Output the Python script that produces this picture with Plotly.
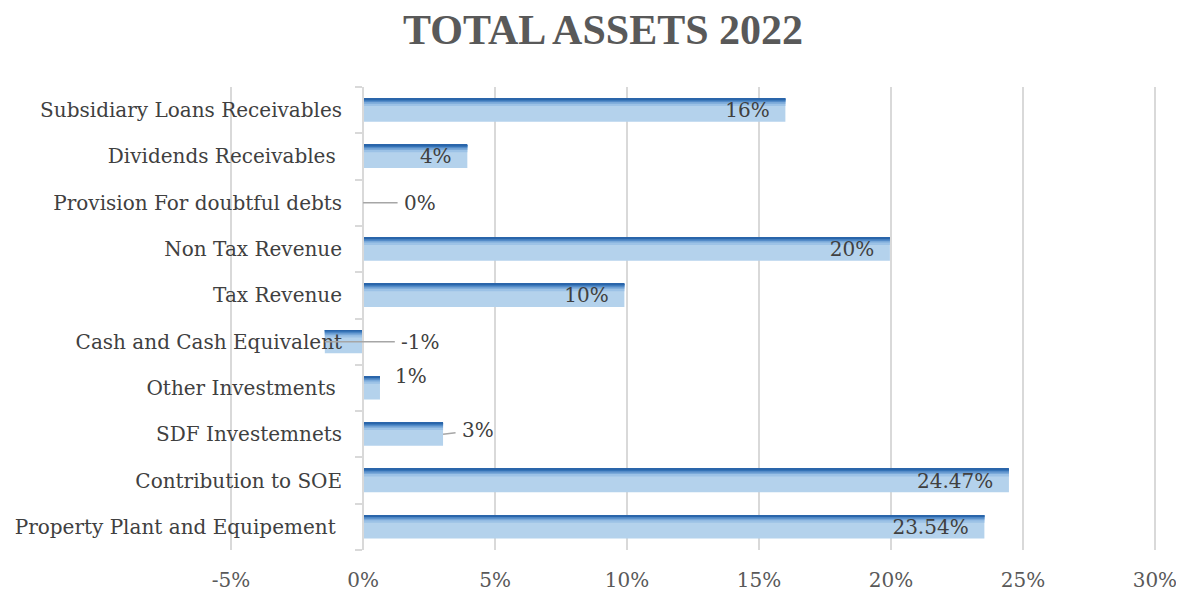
import plotly.graph_objects as go

# 数据 (自下而上)
categories = [
    "Property Plant and Equipement ",
    "Contribution to SOE",
    "SDF Investemnets",
    "Other Investments ",
    "Cash and Cash Equivalent",
    "Tax Revenue",
    "Non Tax Revenue",
    "Provision For doubtful debts",
    "Dividends Receivables ",
    "Subsidiary Loans Receivables",
]
values = [23.54, 24.47, 3.03, 0.64, -1.45, 9.9, 19.96, 0.0, 3.95, 16.0]
labels = ["23.54%", "24.47%", "3%", "1%", "-1%", "10%", "20%", "0%", "4%", "16%"]
label_outside = [False, False, True, True, True, False, False, True, False, False]

x_ticks = [-5, 0, 5, 10, 15, 20, 25, 30]
x_tick_labels = ["-5%", "0%", "5%", "10%", "15%", "20%", "25%", "30%"]

FONT = "DejaVu Serif"
GRID = "#d9d9d9"
LABEL_FONT = dict(family=FONT, size=20, color="#404040")

fig = go.Figure()

# 渐变条: 浅色底 + 顶部逐层加深
layers = [
    (0.50, "#b4d2ec"),
    (0.16, "#9cc2e6"),
    (0.11, "#7aa9d9"),
    (0.075, "#558cc8"),
    (0.045, "#3573b6"),
    (0.02, "#2a65aa"),
]
for w, c in layers:
    fig.add_trace(go.Bar(
        y=categories,
        x=values,
        orientation="h",
        width=w,
        offset=0.25 - w,
        marker=dict(color=c, line_width=0),
        hoverinfo="skip",
        showlegend=False,
    ))

# 数据标签 (透明条, 位于最上层)
fig.add_trace(go.Bar(
    y=categories,
    x=values,
    orientation="h",
    width=0.5,
    offset=-0.25,
    marker=dict(color="rgba(0,0,0,0)", line_width=0),
    text=[("" if o else t) for t, o in zip(labels, label_outside)],
    texttemplate="%{text}\u00a0\u00a0",
    textposition="inside",
    insidetextanchor="end",
    constraintext="none",
    textfont=LABEL_FONT,
    hoverinfo="skip",
    showlegend=False,
))

# 小数值的标签 (带引导线)
shifts = {
    "0%": dict(ax=57, ay=0, arrow=True),
    "-1%": dict(ax=96, ay=0, arrow=True),
    "1%": dict(ax=31, ay=-12, arrow=False),
    "3%": dict(ax=35, ay=-4, arrow=True),
}
for cat, v, t, o in zip(categories, values, labels, label_outside):
    if not o:
        continue
    s = shifts[t]
    if s["arrow"]:
        fig.add_annotation(
            x=v, y=cat, text=t, showarrow=True, arrowhead=0,
            arrowwidth=1.5, arrowcolor="#a6a6a6",
            ax=s["ax"], ay=s["ay"], standoff=0, borderpad=6,
            font=LABEL_FONT,
        )
    else:
        fig.add_annotation(
            x=v, y=cat, text=t, showarrow=False,
            xshift=s["ax"], yshift=-s["ay"],
            font=LABEL_FONT,
        )

# 页面 body 有 8px 边距, 故尺寸减 8
fig.update_layout(
    title=dict(
        text="<b>TOTAL ASSETS 2022</b>",
        x=0.506, xanchor="center", y=0.964, yanchor="middle",
        font=dict(family="Liberation Serif", size=42, color="#595959"),
    ),
    barmode="overlay",
    width=1176, height=584,
    margin=dict(l=221, r=27, t=79, b=42),
    plot_bgcolor="white",
    paper_bgcolor="white",
    font=dict(family=FONT),
)

fig.update_xaxes(
    range=[-5.08, 30.08],
    tickvals=x_ticks,
    ticktext=x_tick_labels,
    showgrid=True, gridcolor=GRID, gridwidth=2,
    zeroline=False,
    showline=False,
    tickfont=dict(family=FONT, size=20, color="#595959"),
    ticklabelstandoff=16,
    automargin=False,
)

fig.update_yaxes(
    categoryorder="array", categoryarray=categories,
    anchor="free", position=5.08 / 35.16,
    showline=True, linecolor=GRID, linewidth=2,
    ticks="outside", tickson="boundaries", ticklen=7, tickcolor=GRID, tickwidth=2,
    showgrid=False,
    tickfont=dict(family=FONT, size=20, color="#404040"),
    ticklabelstandoff=16,
    automargin=False,
)

fig.write_html("out.html")
